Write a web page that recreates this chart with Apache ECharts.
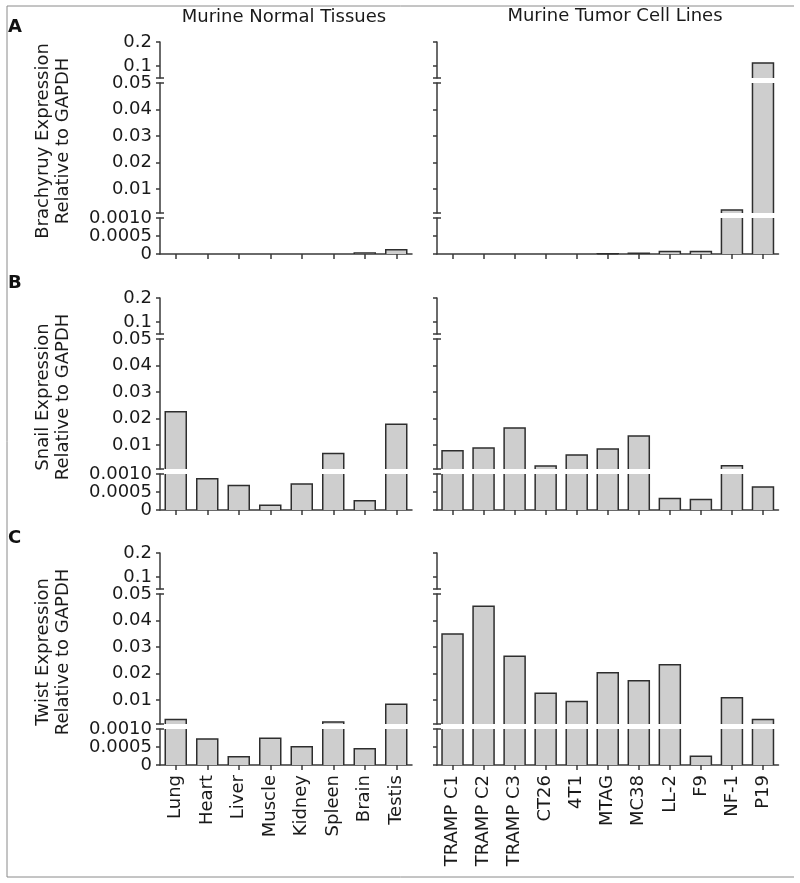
<!DOCTYPE html>
<html>
<head>
<meta charset="utf-8">
<script src="https://cdn.jsdelivr.net/npm/echarts@6/dist/echarts.min.js"></script>
<style>html,body{margin:0;padding:0;background:#fff;}#c{width:800px;height:883px;}</style>
</head>
<body>
<div id="c"></div>
<script>
// ---------- data ----------
const normalTissues = ['Lung','Heart','Liver','Muscle','Kidney','Spleen','Brain','Testis'];
const tumorLines = ['TRAMP C1','TRAMP C2','TRAMP C3','CT26','4T1','MTAG','MC38','LL-2','F9','NF-1','P19'];

const brachyuryNormal = [0, 0, 0, 0, 0, 0, 0.00003, 0.00012];
const brachyuryTumor  = [0, 0, 0, 0, 0, 0.00001, 0.00002, 0.00007, 0.00007, 0.0021, 0.113];
const snailNormal     = [0.0226, 0.00087, 0.00068, 0.00013, 0.00072, 0.0068, 0.00026, 0.0179];
const snailTumor      = [0.0079, 0.0089, 0.0165, 0.0021, 0.0063, 0.0085, 0.0134, 0.00032, 0.00029, 0.0022, 0.00064];
const twistNormal     = [0.0027, 0.00072, 0.00023, 0.00074, 0.00051, 0.0018, 0.00045, 0.0084];
const twistTumor      = [0.0349, 0.0454, 0.0265, 0.0126, 0.0095, 0.0203, 0.0173, 0.0233, 0.00024, 0.0109, 0.0027];

const panelNames = ['Brachyruy Expression', 'Snail Expression', 'Twist Expression'];
const panelLetters = ['A', 'B', 'C'];

// broken axis segments (top, middle, lower)
const topSegRange = [0.05, 0.2];
const topSegTicks = [0.1, 0.2];
const topSegLabels = ['0.1', '0.2'];
const midSegRange = [0.001, 0.05];
const midSegTicks = [0.01, 0.02, 0.03, 0.04, 0.05];
const midSegLabels = ['0.01', '0.02', '0.03', '0.04', '0.05'];
const lowSegRange = [0, 0.001];
const lowSegTicks = [0, 0.0005, 0.001];
const lowSegLabels = ['0', '0.0005', '0.0010'];

// ---------- build ----------
const FONT = 'DejaVu Sans';
const AX = '#3a3a3a';
const panels = [
  [brachyuryNormal, brachyuryTumor],
  [snailNormal, snailTumor],
  [twistNormal, twistTumor]
];
const segs = [
  {range: topSegRange, ticks: topSegTicks, labels: topSegLabels, caps: [topSegRange[0]], off: 0, h: 36},
  {range: midSegRange, ticks: midSegTicks, labels: midSegLabels, caps: [midSegRange[0], midSegRange[1]], off: 41, h: 130},
  {range: lowSegRange, ticks: lowSegTicks, labels: lowSegLabels, caps: [lowSegRange[1]], off: 176, h: 36}
];
const panelTops = [42, 298, 553];
const sides = [
  {cats: normalTissues, left: 160, width: 252, showLabels: true},
  {cats: tumorLines, left: 437, width: 341.5, showLabels: false}
];

const grid = [], xAxis = [], yAxis = [], series = [];

function makeRender(lo, hi) {
  return function (params, api) {
    const i = api.value(0), v = api.value(1);
    if (!(v > lo)) return null;
    const top = Math.min(v, hi);
    const pT = api.coord([i, top]);
    const pB = api.coord([i, lo]);
    const w = 21;
    const x0 = pT[0] - w / 2, x1 = pT[0] + w / 2;
    const stroke = {stroke: '#2e2e2e', lineWidth: 1.5, fill: null};
    const children = [{
      type: 'rect',
      shape: {x: x0, y: pT[1], width: w, height: pB[1] - pT[1]},
      style: {fill: '#cecece'}
    }];
    if (v <= hi) {
      children.push({type: 'polyline', shape: {points: [[x0, pB[1]], [x0, pT[1]], [x1, pT[1]], [x1, pB[1]]]}, style: stroke});
    } else {
      children.push({type: 'line', shape: {x1: x0, y1: pB[1], x2: x0, y2: pT[1]}, style: stroke});
      children.push({type: 'line', shape: {x1: x1, y1: pB[1], x2: x1, y2: pT[1]}, style: stroke});
    }
    return {type: 'group', children: children};
  };
}

panels.forEach(function (pdata, p) {
  sides.forEach(function (side, s) {
    const values = pdata[s];
    segs.forEach(function (seg, k) {
      const gi = grid.length;
      grid.push({left: side.left, top: panelTops[p] + seg.off, width: side.width, height: seg.h, containLabel: false});
      const isLow = k === 2;
      xAxis.push({
        type: 'category', gridIndex: gi, data: side.cats, show: isLow,
        boundaryGap: true,
        axisLine: {show: true, lineStyle: {color: AX, width: 1.5}},
        axisTick: {show: true, alignWithLabel: true, length: 5, lineStyle: {color: AX, width: 1.5}},
        axisLabel: {show: p === 2, interval: 0, rotate: 90, margin: 10, fontFamily: FONT, fontSize: 18, color: '#1a1a1a'},
        splitLine: {show: false}
      });
      const labels = seg.labels, ticks = seg.ticks;
      yAxis.push({
        type: 'value', gridIndex: gi, min: seg.range[0], max: seg.range[1], position: 'left',
        axisLine: {show: true, lineStyle: {color: AX, width: 1.5}},
        axisTick: {show: true, inside: false, length: 4, customValues: ticks.concat(seg.caps), lineStyle: {color: AX, width: 1.5}},
        axisLabel: {
          show: side.showLabels, customValues: ticks, margin: 8, fontFamily: FONT, fontSize: 18, color: '#1a1a1a',
          formatter: function (val) {
            for (let j = 0; j < ticks.length; j++) {
              if (Math.abs(val - ticks[j]) < 1e-9) return labels[j];
            }
            return '';
          }
        },
        splitLine: {show: false}
      });
      yAxis.push({
        type: 'value', gridIndex: gi, min: seg.range[0], max: seg.range[1], position: 'left',
        axisLine: {show: false},
        axisTick: {show: true, inside: true, length: 4, customValues: seg.caps, lineStyle: {color: AX, width: 1.5}},
        axisLabel: {show: false},
        splitLine: {show: false}
      });
      series.push({
        type: 'custom',
        xAxisIndex: gi,
        yAxisIndex: yAxis.length - 2,
        renderItem: makeRender(seg.range[0], seg.range[1]),
        encode: {x: 0, y: 1},
        data: values.map(function (v, i) { return [i, v]; }),
        silent: true
      });
    });
  });
});

const graphic = [
  {type: 'polyline', shape: {points: [[794, 6], [7, 6], [7, 877], [794, 877]]}, style: {stroke: '#8a8a8a', lineWidth: 1, fill: null}},
  {type: 'text', x: 284, y: 17, style: {text: 'Murine Normal Tissues', font: '18px "DejaVu Sans"', fill: '#1a1a1a', align: 'center', verticalAlign: 'middle'}},
  {type: 'text', x: 615, y: 16, style: {text: 'Murine Tumor Cell Lines', font: '18px "DejaVu Sans"', fill: '#1a1a1a', align: 'center', verticalAlign: 'middle'}}
];
panelTops.forEach(function (T, p) {
  graphic.push({type: 'text', x: 8, y: T - 15, style: {text: panelLetters[p], font: 'bold 18px "DejaVu Sans"', fill: '#111', align: 'left', verticalAlign: 'middle'}});
  graphic.push({type: 'text', x: 53, y: T + 99, rotation: Math.PI / 2,
    style: {text: panelNames[p] + '\nRelative to GAPDH', font: '18px "DejaVu Sans"', fill: '#1a1a1a', align: 'center', verticalAlign: 'middle', lineHeight: 20}});
});

const chart = echarts.init(document.getElementById('c'), null, {renderer: 'canvas'});
chart.setOption({
  animation: false,
  backgroundColor: '#fff',
  grid: grid, xAxis: xAxis, yAxis: yAxis, series: series,
  graphic: graphic
});
</script>
</body>
</html>
